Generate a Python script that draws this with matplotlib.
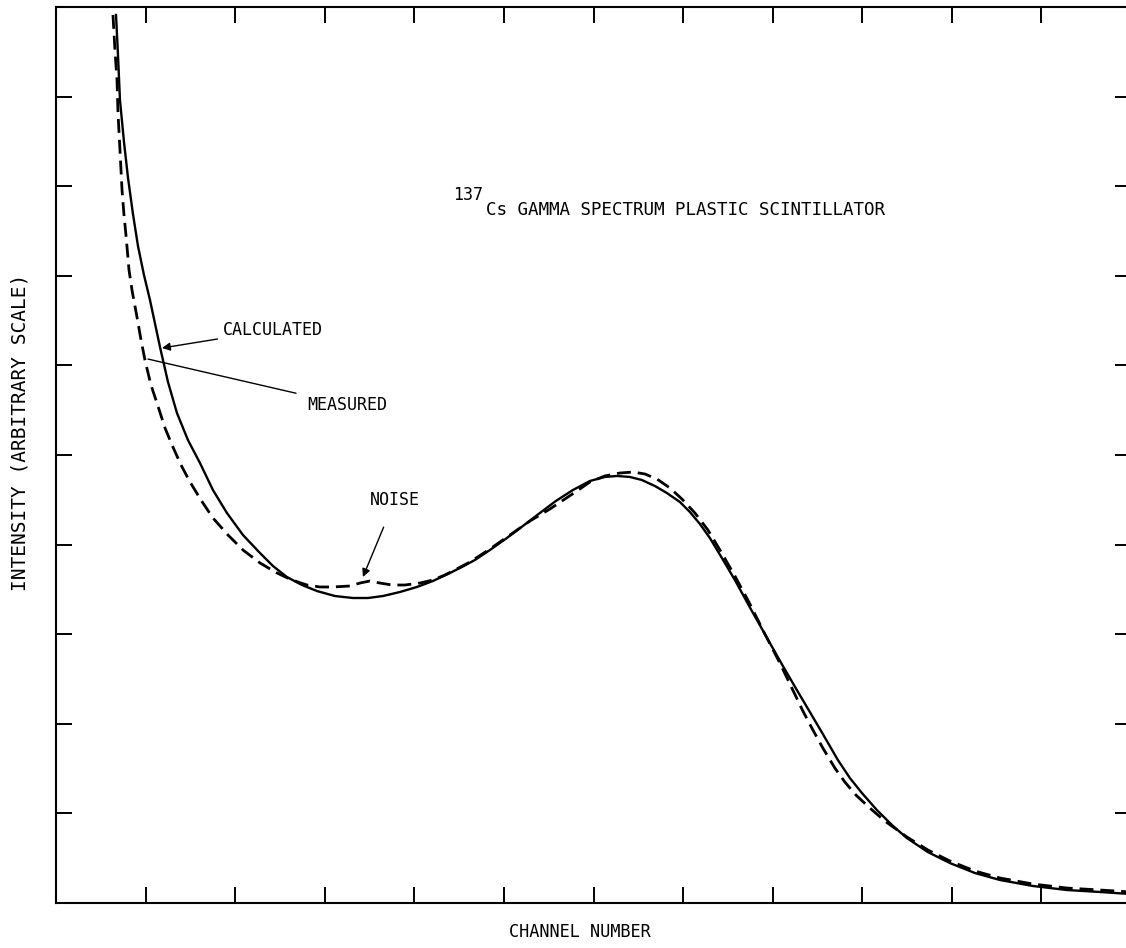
import numpy as np
import matplotlib.pyplot as plt

# arbitrary units (one tick = 1)
calc_x = [0.670, 0.692, 0.714, 0.759, 0.804, 0.859, 0.915, 0.982, 1.049, 1.161, 1.250,
          1.350, 1.473, 1.607, 1.752, 1.908, 2.087, 2.277, 2.422, 2.578, 2.746,
          2.913, 3.114, 3.315, 3.482, 3.650, 3.839, 4.029, 4.208, 4.397, 4.531,
          4.676, 4.844, 5.034, 5.212, 5.402, 5.580, 5.770, 5.960, 6.127, 6.261,
          6.406, 6.540, 6.685, 6.819, 6.964, 7.076, 7.188, 7.299, 7.433, 7.578,
          7.768, 7.969, 8.114, 8.270, 8.415, 8.560, 8.728, 8.862, 8.996, 9.163,
          9.331, 9.498, 9.732, 9.978, 10.257, 10.536, 10.904, 11.284, 11.652, 12.0]
calc_y = [9.911, 9.464, 8.962, 8.493, 8.092, 7.690, 7.333, 7.009, 6.730, 6.205, 5.815,
          5.469, 5.167, 4.911, 4.609, 4.353, 4.107, 3.906, 3.761, 3.638, 3.549,
          3.482, 3.426, 3.404, 3.404, 3.426, 3.471, 3.527, 3.594, 3.683, 3.750,
          3.828, 3.940, 4.074, 4.208, 4.353, 4.487, 4.609, 4.710, 4.755, 4.766,
          4.755, 4.721, 4.654, 4.576, 4.476, 4.364, 4.230, 4.074, 3.851, 3.605,
          3.259, 2.902, 2.645, 2.377, 2.132, 1.886, 1.596, 1.395, 1.228, 1.038,
          0.871, 0.725, 0.569, 0.446, 0.335, 0.257, 0.190, 0.145, 0.123, 0.100]

meas_x = [0.636, 0.658, 0.681, 0.692, 0.714, 0.737, 0.759, 0.781, 0.815, 0.848, 0.904,
          0.949, 0.993, 1.060, 1.127, 1.217, 1.295, 1.395, 1.496, 1.618, 1.752,
          1.920, 2.087, 2.277, 2.467, 2.634, 2.801, 2.947, 3.092, 3.281, 3.393,
          3.504, 3.616, 3.750, 3.895, 4.063, 4.208, 4.342, 4.453, 4.621, 4.844,
          5.067, 5.290, 5.513, 5.681, 5.815, 5.960, 6.127, 6.295, 6.440, 6.574,
          6.708, 6.853, 6.987, 7.132, 7.277, 7.411, 7.578, 7.746, 7.913, 8.080,
          8.225, 8.337, 8.449, 8.560, 8.694, 8.806, 8.929, 9.085, 9.252, 9.498,
          9.732, 9.978, 10.257, 10.536, 10.904, 11.284, 11.652, 12.0]
meas_y = [9.911, 9.520, 9.185, 8.817, 8.404, 7.958, 7.679, 7.456, 7.065, 6.842, 6.540,
          6.284, 6.060, 5.781, 5.580, 5.301, 5.112, 4.889, 4.699, 4.498, 4.297,
          4.107, 3.940, 3.795, 3.683, 3.605, 3.549, 3.527, 3.527, 3.538, 3.571,
          3.594, 3.571, 3.549, 3.549, 3.571, 3.605, 3.661, 3.717, 3.806, 3.951,
          4.107, 4.263, 4.397, 4.509, 4.598, 4.699, 4.766, 4.799, 4.810, 4.788,
          4.732, 4.632, 4.509, 4.353, 4.163, 3.940, 3.650, 3.337, 3.002, 2.679,
          2.377, 2.143, 1.931, 1.730, 1.507, 1.350, 1.205, 1.060, 0.915, 0.737,
          0.592, 0.469, 0.357, 0.279, 0.212, 0.167, 0.145, 0.123]

x_ticks = list(range(1, 12))
y_ticks = list(range(1, 10))

title_sup = "137"
title_text = "Cs GAMMA SPECTRUM PLASTIC SCINTILLATOR"

font = "DejaVu Sans Mono"
plt.rcParams["lines.scale_dashes"] = False

fig = plt.figure(figsize=(11.26, 9.48), dpi=100)
# right spine sits just outside the scanned page
ax = fig.add_axes([56 / 1126, 45 / 948, 1075 / 1126, 896 / 948])

ax.plot(calc_x, calc_y, color="black", linewidth=1.7, solid_joinstyle="round")
ax.plot(meas_x, meas_y, color="black", linewidth=2.0, dashes=(10, 5))

ax.set_xlim(0, 12)
ax.set_ylim(0, 10)
ax.set_xticks(x_ticks)
ax.set_yticks(y_ticks)
ax.tick_params(direction="in", length=11.5, width=1.4, top=True, right=True,
               labelbottom=False, labelleft=False)
for sp in ax.spines.values():
    sp.set_linewidth(1.5)

# labels on the curves
ax.annotate("CALCULATED", xy=(1.183, 6.194), xytext=(1.864, 6.395),
            fontsize=12, family=font, va="center", ha="left",
            arrowprops=dict(arrowstyle="-|>", lw=1.0, color="black",
                            mutation_scale=12, shrinkA=2, shrinkB=0))
ax.annotate("MEASURED", xy=(1.027, 6.071), xytext=(2.801, 5.558),
            fontsize=12, family=font, va="center", ha="left",
            arrowprops=dict(arrowstyle="-", lw=1.0, color="black",
                            shrinkA=6, shrinkB=0))
ax.annotate("NOISE", xy=(3.426, 3.638), xytext=(3.504, 4.498),
            fontsize=12, family=font, va="center", ha="left",
            arrowprops=dict(arrowstyle="-|>", lw=1.0, color="black",
                            mutation_scale=12, shrinkA=12, shrinkB=0))

ax.text(4.80, 7.73, title_text, fontsize=12.6, family=font, va="center", ha="left")
ax.text(4.43, 7.90, title_sup, fontsize=12, family=font, va="center", ha="left")

fig.text(20 / 1126, (948 - 432) / 948, "INTENSITY (ARBITRARY SCALE)", rotation=90,
         fontsize=14, family=font, va="center", ha="center")
fig.text(580 / 1126, (948 - 932) / 948, "CHANNEL NUMBER",
         fontsize=12.2, family=font, va="center", ha="center")

plt.savefig("out.png", dpi=100)
